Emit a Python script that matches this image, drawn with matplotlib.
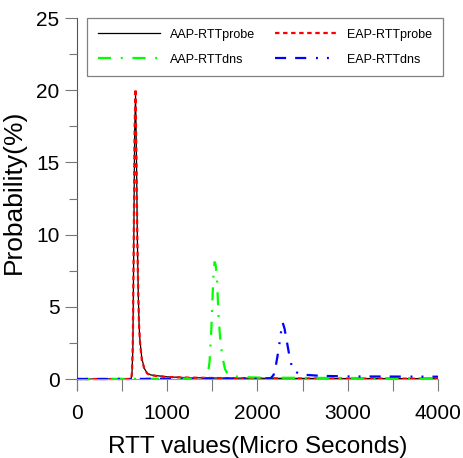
import numpy as np
import matplotlib
matplotlib.use("Agg")
import matplotlib.pyplot as plt
from matplotlib.ticker import MultipleLocator

plt.rcParams["font.family"] = ["Liberation Sans", "DejaVu Sans"]
plt.rcParams["lines.scale_dashes"] = False

# ---- data ----
probe_x = [0, 600, 610, 620, 630, 640, 650, 660, 670, 680, 690, 700, 720, 750,
           780, 820, 900, 1000, 1200, 1500, 2000, 2500, 3000, 3500, 4000]
aap_probe = [0, 0, 0.3, 2.0, 9.0, 17.0, 19.7, 15.5, 9.8, 6.0, 3.6, 2.6, 1.4, 0.7,
             0.4, 0.28, 0.22, 0.15, 0.1, 0.07, 0.05, 0.04, 0.03, 0.03, 0.02]
eap_probe = [0, 0, 0.4, 2.5, 9.5, 17.5, 20.1, 15.0, 9.5, 5.8, 3.5, 2.5, 1.3, 0.65,
             0.38, 0.26, 0.2, 0.14, 0.1, 0.07, 0.05, 0.04, 0.03, 0.03, 0.02]

aap_dns_x = [0, 1000, 1400, 1450, 1470, 1490, 1500, 1510, 1525, 1535, 1550, 1570,
             1590, 1610, 1640, 1670, 1720, 1800, 1900, 2000, 2500, 3000, 3500, 4000]
aap_dns = [0, 0.02, 0.05, 0.3, 1.2, 3.5, 5.2, 6.9, 8.1, 8.0, 7.2, 4.3,
           2.6, 1.6, 0.7, 0.35, 0.2, 0.15, 0.12, 0.1, 0.08, 0.07, 0.06, 0.06]

eap_dns_x = [0, 2000, 2150, 2180, 2200, 2220, 2240, 2260, 2280, 2300, 2320, 2340,
             2360, 2380, 2400, 2450, 2500, 2700, 3000, 3500, 4000]
eap_dns = [0, 0.02, 0.05, 0.3, 0.8, 1.5, 2.3, 3.2, 3.9, 3.5, 2.8, 2.1,
           1.4, 0.9, 0.6, 0.4, 0.3, 0.22, 0.18, 0.17, 0.16]

fig = plt.figure(figsize=(4.63, 4.58), dpi=100)
ax = fig.add_axes([0.166, 0.1485, 0.780, 0.812])

l_aap_probe, = ax.plot(probe_x, aap_probe, color="black", lw=0.9,
                       label="AAP-RTTprobe")
l_eap_probe, = ax.plot(probe_x, eap_probe, color="red", lw=1.6,
                       dashes=(3.2, 2.6), label="EAP-RTTprobe")
l_aap_dns, = ax.plot(aap_dns_x, aap_dns, color="#00ff00", lw=1.6,
                     dashes=(9.4, 7.0, 1.4, 7.0), label="AAP-RTTdns")
l_eap_dns, = ax.plot(eap_dns_x, eap_dns, color="blue", lw=1.6,
                     dashes=(8, 6.5, 8, 7, 1.4, 6.5, 1.4, 6.5), label="EAP-RTTdns")

ax.set_xlim(0, 4000)
ax.set_ylim(-0.76, 25)

for s in ["top", "right"]:
    ax.spines[s].set_visible(False)
ax.spines["bottom"].set_position(("data", 0))
ax.spines["bottom"].set_color("#999999")
ax.spines["left"].set_color("#555555")
ax.spines["left"].set_linewidth(0.8)
ax.spines["left"].set_zorder(0.5)

ax.xaxis.set_major_locator(MultipleLocator(1000))
ax.xaxis.set_minor_locator(MultipleLocator(500))
ax.yaxis.set_major_locator(MultipleLocator(5))
ax.yaxis.set_minor_locator(MultipleLocator(2.5))

ax.tick_params(axis="x", which="both", direction="out", length=8.5,
               width=0.8, color="#777777", labelsize=15, pad=9.5)
ax.tick_params(axis="y", which="major", direction="out", length=8.5,
               width=0.8, color="#777777", labelsize=15, pad=4)
ax.tick_params(axis="y", which="minor", direction="out", length=6,
               width=0.8, color="#777777")

ax.set_xlabel("RTT values(Micro Seconds)", fontsize=17.5)
ax.set_ylabel("Probability(%)", fontsize=19)
ax.xaxis.set_label_coords(0.5, -0.125)
ax.yaxis.set_label_coords(-0.14, 0.532)

leg = ax.legend(handles=[l_aap_probe, l_aap_dns, l_eap_probe, l_eap_dns],
                ncol=2, loc="upper left", mode="expand",
                bbox_to_anchor=(0.028, 0.841, 0.986, 0.159), borderaxespad=0,
                fontsize=9, handlelength=5, handletextpad=0.8,
                borderpad=0.85, labelspacing=1.05, columnspacing=1.5,
                fancybox=False, framealpha=1, edgecolor="#808080")
leg.get_frame().set_linewidth(0.9)

fig.savefig("out.png", dpi=100)
